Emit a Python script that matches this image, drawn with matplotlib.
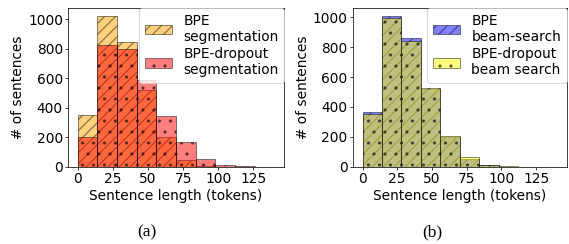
import matplotlib
matplotlib.use("Agg")
import matplotlib.pyplot as plt
import numpy as np

# bin edges (tokens) and counts per bin
edges = np.arange(0, 141, 14)
centers = (edges[:-1] + edges[1:]) / 2

bpe_seg = [355, 1025, 845, 520, 200, 45, 8, 2, 0, 0]
drop_seg = [200, 825, 800, 590, 345, 170, 55, 15, 3, 1]

bpe_beam = [365, 1010, 860, 520, 200, 55, 12, 2, 1, 0]
drop_beam = [350, 995, 842, 530, 205, 65, 12, 3, 1, 0]

DPI = 66
plt.rcParams['font.size'] = 15
plt.rcParams['hatch.linewidth'] = 1.2

fig = plt.figure(figsize=(569 / DPI, 244 / DPI), dpi=DPI)
ax1 = fig.add_axes([0.1195, 0.316, 0.38, 0.651])
ax2 = fig.add_axes([0.620, 0.316, 0.376, 0.651])


def draw(ax, a, b, ca, cb, la, lb):
    ax.hist(centers, bins=edges, weights=a, color=ca, alpha=0.5,
            edgecolor='k', linewidth=1, hatch='//', label=la)
    ax.hist(centers, bins=edges, weights=b, color=cb, alpha=0.5,
            edgecolor='k', linewidth=1, hatch='.', label=lb)
    ax.set_xticks([0, 25, 50, 75, 100, 125])
    ax.set_yticks([0, 200, 400, 600, 800, 1000])
    ax.set_xlabel('Sentence length (tokens)', labelpad=3)
    ax.set_ylabel('# of sentences', labelpad=3)
    ax.tick_params(pad=2)
    ax.legend(loc='upper right', borderaxespad=0.0, handlelength=2.0,
              labelspacing=0.25, handletextpad=0.8, fontsize=15)


draw(ax1, bpe_seg, drop_seg, 'orange', 'red',
     'BPE\nsegmentation', 'BPE-dropout\nsegmentation')
draw(ax2, bpe_beam, drop_beam, 'blue', 'yellow',
     'BPE\nbeam-search', 'BPE-dropout\nbeam search')

fig.text(147 / 569, 1 - 232 / 244, '(a)', ha='center', va='center',
         family='Liberation Serif', fontsize=19)
fig.text(432 / 569, 1 - 232 / 244, '(b)', ha='center', va='center',
         family='Liberation Serif', fontsize=19)

fig.savefig('out.png', dpi=DPI)
